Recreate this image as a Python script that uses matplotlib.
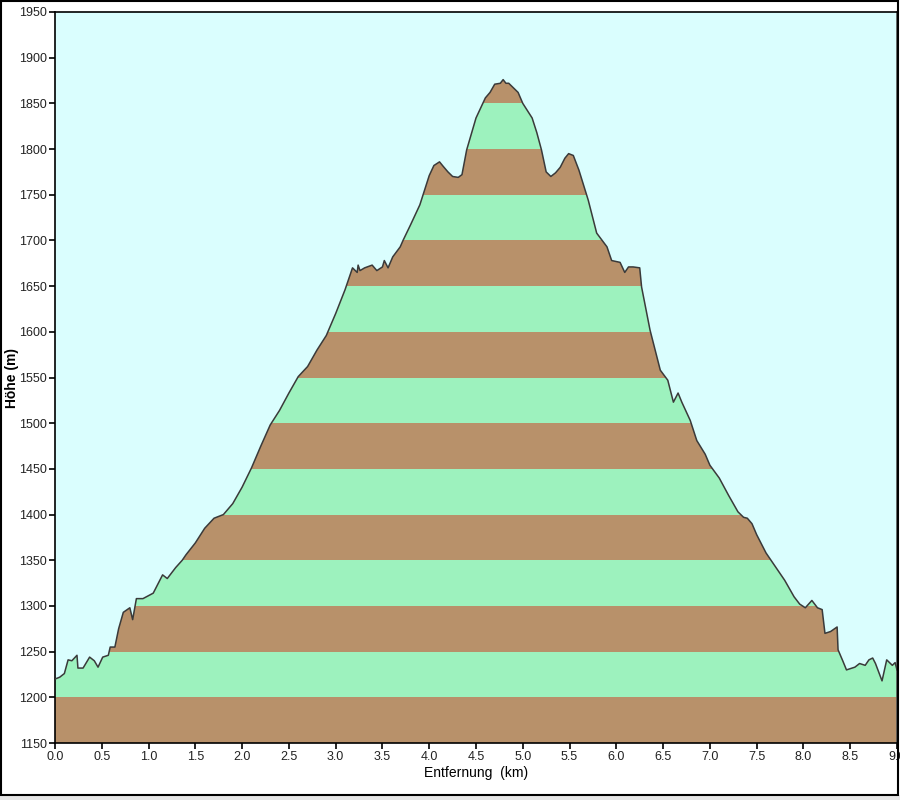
import matplotlib
matplotlib.use("Agg")
import matplotlib.pyplot as plt
from matplotlib.patches import Polygon, Rectangle
import numpy as np

# Entfernung (km) und Höhe (m)
dist_km = [0.00, 0.05, 0.10, 0.14, 0.18, 0.235, 0.245, 0.30, 0.37, 0.42,
           0.46, 0.51, 0.57, 0.59, 0.64, 0.68, 0.73, 0.80, 0.83, 0.87,
           0.94, 1.05, 1.15, 1.20, 1.29, 1.36, 1.40, 1.50, 1.60, 1.70,
           1.80, 1.90, 2.00, 2.10, 2.20, 2.30, 2.40, 2.50, 2.60, 2.70,
           2.80, 2.90, 3.00, 3.10, 3.17, 3.18, 3.23, 3.24, 3.26, 3.31,
           3.39, 3.44, 3.50, 3.52, 3.56, 3.61, 3.69, 3.72, 3.80, 3.90,
           3.95, 4.00, 4.05, 4.11, 4.15, 4.20, 4.25, 4.31, 4.35, 4.40,
           4.50, 4.60, 4.65, 4.70, 4.76, 4.79, 4.82, 4.85, 4.90, 4.95,
           5.00, 5.10, 5.15, 5.20, 5.25, 5.30, 5.35, 5.40, 5.45, 5.49,
           5.54, 5.60, 5.70, 5.79, 5.90, 5.95, 6.04, 6.09, 6.13, 6.18,
           6.25, 6.27, 6.36, 6.47, 6.55, 6.61, 6.66, 6.70, 6.79, 6.86,
           6.95, 7.00, 7.10, 7.20, 7.30, 7.36, 7.40, 7.45, 7.50, 7.60,
           7.70, 7.80, 7.90, 7.96, 8.02, 8.09, 8.15, 8.20, 8.23, 8.29,
           8.36, 8.37, 8.42, 8.46, 8.55, 8.60, 8.66, 8.70, 8.74, 8.77,
           8.84, 8.89, 8.95, 8.98, 9.00]
hoehe_m = [1220, 1222, 1226, 1241, 1240, 1246, 1232, 1232, 1244, 1240,
           1233, 1244, 1246, 1255, 1255, 1275, 1293, 1298, 1285, 1308,
           1308, 1314, 1334, 1330, 1342, 1350, 1356, 1369, 1385, 1396,
           1400, 1412, 1430, 1451, 1475, 1498, 1514, 1533, 1551, 1562,
           1580, 1596, 1620, 1646, 1667, 1670, 1665, 1673, 1667, 1670,
           1673, 1667, 1671, 1678, 1670, 1682, 1693, 1700, 1717, 1739,
           1755, 1771, 1782, 1786, 1781, 1775, 1770, 1769, 1772, 1799,
           1834, 1856, 1862, 1871, 1872, 1876, 1872, 1872, 1867, 1862,
           1850, 1834, 1818, 1799, 1775, 1770, 1774, 1780, 1790, 1795,
           1793, 1777, 1744, 1708, 1693, 1678, 1676, 1665, 1671, 1671,
           1670, 1649, 1602, 1558, 1547, 1523, 1533, 1523, 1503, 1481,
           1466, 1454, 1440, 1421, 1403, 1397, 1396, 1390, 1378, 1358,
           1343, 1328, 1310, 1302, 1298, 1306, 1298, 1296, 1270, 1272,
           1277, 1252, 1240, 1230, 1233, 1237, 1235, 1241, 1243, 1237,
           1218, 1241, 1235, 1238, 1230]

y_min, y_max, band = 1150, 1950, 50
brown = "#B8916A"
green = "#9DF2BE"
sky = "#DAFEFE"

fig = plt.figure(figsize=(9, 8), dpi=100)
fig.patch.set_facecolor("white")
ax = fig.add_axes([55 / 900, 1 - 743 / 800, 842 / 900, 731 / 800])
ax.set_facecolor(sky)

# Profil als Clip-Fläche für die Höhenbänder
verts = [(dist_km[0], y_min)] + list(zip(dist_km, hoehe_m)) + [(dist_km[-1], y_min)]
profile = Polygon(verts, closed=True, facecolor="none", edgecolor="none")
ax.add_patch(profile)

for i, lo in enumerate(range(y_min, y_max, band)):
    span = ax.axhspan(lo, lo + band, color=brown if i % 2 == 0 else green,
                      lw=0, zorder=1)
    span.set_clip_path(profile)

ax.plot(dist_km, hoehe_m, color="#3a3a3a", lw=1.1, zorder=3)

ax.set_xlim(0, 9)
ax.set_ylim(y_min, y_max)
ax.set_xticks(np.arange(0, 9.01, 0.5))
ax.set_xticklabels([f"{v:.1f}" for v in np.arange(0, 9.01, 0.5)])
ax.set_yticks(np.arange(y_min, y_max + 1, band))
ax.tick_params(direction="out", length=4, width=1.2, color="black",
               labelsize=9, labelcolor="#222222", pad=2)
for s in ax.spines.values():
    s.set_color("black")
    s.set_linewidth(1.2)
ax.spines["right"].set_color("#555555")

for t in ax.get_xticklabels() + ax.get_yticklabels():
    t.set_family("Liberation Sans")

ax.set_xlabel("Entfernung  (km)", family="Liberation Sans", fontsize=10,
              labelpad=2)
ax.set_ylabel("Höhe (m)", family="Liberation Sans", fontsize=10,
              fontweight="bold")
ax.yaxis.set_label_coords(-36 / 842, 0.5)

# Rahmen um das Bild und grauer Streifen unten
fig.patches.append(Rectangle((0, 0), 1, 5 / 800, transform=fig.transFigure,
                             facecolor="#e6e6e6", edgecolor="none"))
fig.patches.append(Rectangle((1 / 900, 5 / 800), 897 / 900, 794 / 800,
                             transform=fig.transFigure, facecolor="none",
                             edgecolor="black", lw=1.5))

fig.savefig("out.png", dpi=100)
